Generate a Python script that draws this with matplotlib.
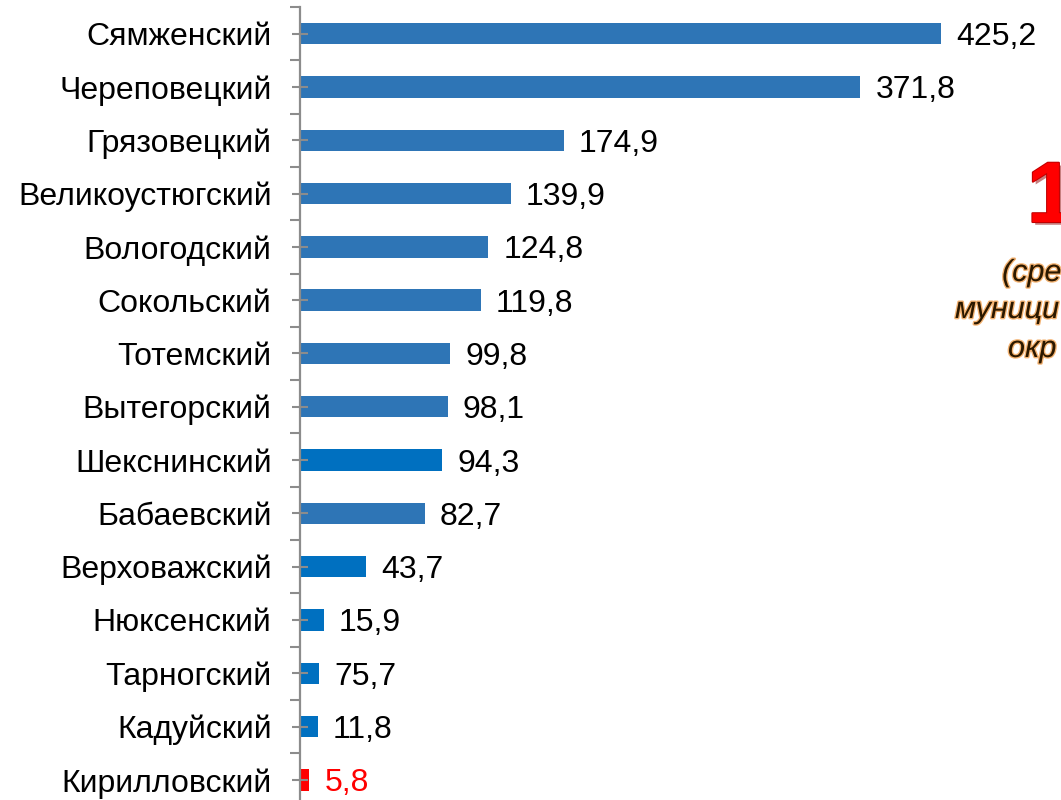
import matplotlib
matplotlib.use("Agg")
import matplotlib.pyplot as plt
import matplotlib.patheffects as pe
import numpy as np

categories = ["Сямженский", "Череповецкий", "Грязовецкий", "Великоустюгский",
              "Вологодский", "Сокольский", "Тотемский", "Вытегорский",
              "Шекснинский", "Бабаевский", "Верховажский", "Нюксенский",
              "Тарногский", "Кадуйский", "Кирилловский"]
bar_values = [425.2, 371.8, 174.9, 139.9, 124.8, 119.8, 99.8, 98.1,
              94.3, 82.7, 43.7, 15.9, 12.7, 11.8, 6.2]
value_labels = ["425,2", "371,8", "174,9", "139,9", "124,8", "119,8", "99,8", "98,1",
                "94,3", "82,7", "43,7", "15,9", "75,7", "11,8", "5,8"]
side_big = "1"
side_lines = ["(сре", "муници", "окр"]

C1, C2, RED = "#2E75B6", "#0070C0", "#FF0000"
bar_colors = [C1, C1, C1, C1, C1, C1, C1, C1, C2, C1, C2, C2, C2, C2, RED]
label_colors = ["black"] * 14 + [RED]

plt.rcParams['font.family'] = ['Liberation Sans', 'DejaVu Sans']

W, H = 1061, 800
fig = plt.figure(figsize=(W / 100, H / 100), dpi=100)
n = len(categories)
top_px, step = 7.0, 53.3
ax_h = n * step
ax = fig.add_axes([300 / W, (H - top_px - ax_h) / H, 761 / W, ax_h / H])
ax.set_xlim(0, 761 / 1.5075)
ax.set_ylim(n - 0.5, -0.5)
y = np.arange(n)
ax.barh(y, bar_values, height=0.4, color=bar_colors)
for yi, v, lab, c in zip(y, bar_values, value_labels, label_colors):
    ax.annotate(lab, (v, yi), xytext=(15, 0), textcoords="offset pixels",
                ha="left", va="center_baseline", fontsize=23, color=c)

for s in ["top", "right", "bottom"]:
    ax.spines[s].set_visible(False)
ax.spines["left"].set_color("#8C8C8C")
ax.spines["left"].set_linewidth(1.6)
ax.set_xticks([])
ax.set_yticks(y)
ax.set_yticklabels(categories, fontsize=23)
ax.set_yticks(np.arange(-0.5, n, 1), minor=True)
ax.tick_params(axis="y", which="major", direction="inout", length=11, width=1.5,
               color="#8C8C8C", pad=15)
ax.tick_params(axis="y", which="minor", direction="out", length=7.5, width=1.5,
               color="#8C8C8C")
for t in ax.get_yticklabels():
    t.set_horizontalalignment("right")
    t.set_verticalalignment("center_baseline")

glow = [pe.withStroke(linewidth=2.0, foreground="#F0A050", alpha=0.8)]
fig.text(1027 / W, 1 - 222 / H, side_big, fontsize=62, fontweight="bold", color=RED,
         ha="left", va="baseline",
         path_effects=[pe.withSimplePatchShadow(offset=(2, -2), shadow_rgbFace="#900000", alpha=0.5),
                       pe.withStroke(linewidth=1.5, foreground="#C00000")])
for xx, yy, s in zip([1002, 955, 1008], [281, 318, 357], side_lines):
    fig.text(xx / W, 1 - yy / H, s, fontsize=22, fontstyle="italic",
             color="#2A1800", ha="left", va="baseline", path_effects=glow)

fig.savefig("out.png", dpi=100)
